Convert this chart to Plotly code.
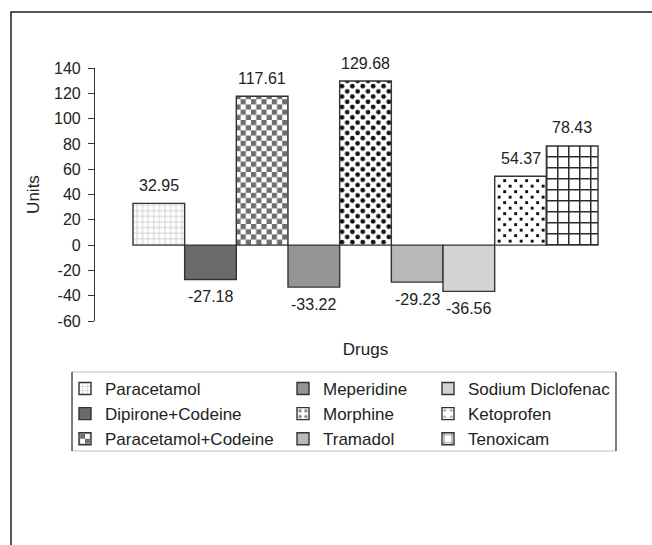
import json
import plotly.graph_objects as go

# ---- data -------------------------------------------------------------
drugs = [
    "Paracetamol", "Dipirone+Codeine", "Paracetamol+Codeine",
    "Meperidine", "Morphine", "Tramadol",
    "Sodium Diclofenac", "Ketoprofen", "Tenoxicam",
]
units = [32.95, -27.18, 117.61, -33.22, 129.68, -29.23, -36.56, 54.37, 78.43]
y_ticks = [-60, -40, -20, 0, 20, 40, 60, 80, 100, 120, 140]

# ---- styling ------------------------------------------------------------
FONT = "Liberation Sans, Arial, sans-serif"
INK = "#222222"
EDGE = "#333333"

# native fill styles (solid colours or built-in patterns)
fills = {
    "Paracetamol": dict(color="white", pattern=dict(shape="+", size=5.6, solidity=0.28,
                                                    fgcolor="#939393", bgcolor="white")),
    "Dipirone+Codeine": dict(color="#6b6b6d"),
    "Paracetamol+Codeine": dict(color="white", pattern=dict(shape="+", size=10.4, solidity=0.5,
                                                            fgcolor="#707070", bgcolor="white")),
    "Meperidine": dict(color="#959597"),
    "Morphine": dict(color="white", pattern=dict(shape=".", size=7.2, solidity=0.3,
                                                 fgcolor="#111111", bgcolor="white")),
    "Tramadol": dict(color="#b8b8ba"),
    "Sodium Diclofenac": dict(color="#d2d3d5"),
    "Ketoprofen": dict(color="white", pattern=dict(shape=".", size=8, solidity=0.1,
                                                   fgcolor="#111111", bgcolor="white")),
    "Tenoxicam": dict(color="white", pattern=dict(shape="+", size=11, solidity=0.27,
                                                  fgcolor="#2a2a2a", bgcolor="white")),
}

# custom SVG tiles for fills that have no built-in equivalent
custom_tiles = [
    {"name": "Paracetamol+Codeine", "id": "tile-checker", "size": 10.4, "bg": "white",
     "shapes": [
         {"tag": "rect", "attrs": {"x": 0, "y": 0, "width": 5.2, "height": 5.2, "fill": "#6e6e6e"}},
         {"tag": "rect", "attrs": {"x": 5.2, "y": 5.2, "width": 5.2, "height": 5.2, "fill": "#6e6e6e"}},
     ]},
    {"name": "Morphine", "id": "tile-dots", "size": 10.4, "bg": "white",
     "shapes": [
         {"tag": "circle", "attrs": {"cx": 2.6, "cy": 2.6, "r": 2.35, "fill": "#111111"}},
         {"tag": "circle", "attrs": {"cx": 7.8, "cy": 7.8, "r": 2.35, "fill": "#111111"}},
     ]},
    {"name": "Ketoprofen", "id": "tile-squares", "size": 11, "bg": "white",
     "shapes": [
         {"tag": "rect", "attrs": {"x": 1.2, "y": 1.2, "width": 2.9, "height": 2.9, "fill": "#111111"}},
         {"tag": "rect", "attrs": {"x": 6.7, "y": 6.7, "width": 2.9, "height": 2.9, "fill": "#111111"}},
     ]},
    {"name": "Tenoxicam", "id": "tile-grid", "size": 11, "bg": "white",
     "shapes": [
         {"tag": "rect", "attrs": {"x": 0, "y": 0, "width": 1.5, "height": 11, "fill": "#2b2b2b"}},
         {"tag": "rect", "attrs": {"x": 0, "y": 0, "width": 11, "height": 1.5, "fill": "#2b2b2b"}},
     ]},
]

# ---- geometry (pixels) --------------------------------------------------
W, H = 652, 545
M_L, M_R, M_T, M_B = 95, 16, 68, 224
PW, PH = W - M_L - M_R, H - M_T - M_B


def px_x(px):
    return (px - M_L) / PW


def px_y(py):
    return (H - M_B - py) / PH


side_gap = 0.735  # half of the cluster gap, in bar widths

fig = go.Figure()

legend_names = ["legend", "legend2", "legend3"]
for i, (name, val) in enumerate(zip(drugs, units)):
    col, row = divmod(i, 3)
    f = fills[name]
    marker = dict(color=f["color"], line=dict(color=EDGE, width=1.4))
    if "pattern" in f:
        marker["pattern"] = f["pattern"]
    fig.add_bar(
        x=[i], y=[val], width=1, name=name, marker=marker,
        legend=legend_names[col], legendrank=row + 1,
        hovertemplate=f"{name}: %{{y:.2f}}<extra></extra>",
    )
    fig.add_annotation(
        x=i, y=val, text=f"{val:.2f}", showarrow=False,
        yshift=18 if val > 0 else -17, yanchor="middle",
        font=dict(family=FONT, size=16, color=INK),
    )

# legend columns
swatch_centres = [85, 303, 448]
legend_top = 371
legend_cfg = {}
for col, key in enumerate(legend_names):
    legend_cfg[key] = dict(
        x=px_x(swatch_centres[col] - 20), y=px_y(legend_top),
        xanchor="left", yanchor="top", orientation="v",
        bgcolor="rgba(0,0,0,0)", borderwidth=0, tracegroupgap=0,
        font=dict(family=FONT, size=17, color=INK),
    )

shapes = [
    # outer frame
    dict(type="rect", xref="paper", yref="paper",
         x0=px_x(11), x1=px_x(W + 20), y0=px_y(H + 20), y1=px_y(12),
         line=dict(color="#1e1e1e", width=1.5), fillcolor="rgba(0,0,0,0)", layer="below"),
    # legend box: light top/bottom rules, dark sides
    dict(type="line", xref="paper", yref="paper",
         x0=px_x(72), x1=px_x(616), y0=px_y(372), y1=px_y(372),
         line=dict(color="#bdbdbd", width=1.2)),
    dict(type="line", xref="paper", yref="paper",
         x0=px_x(72), x1=px_x(616), y0=px_y(451), y1=px_y(451),
         line=dict(color="#bdbdbd", width=1.2)),
    dict(type="line", xref="paper", yref="paper",
         x0=px_x(72), x1=px_x(72), y0=px_y(372), y1=px_y(451),
         line=dict(color="#333333", width=1.3)),
    dict(type="line", xref="paper", yref="paper",
         x0=px_x(616), x1=px_x(616), y0=px_y(372), y1=px_y(451),
         line=dict(color="#333333", width=1.3)),
]

fig.update_layout(
    width=W, height=H,
    margin=dict(l=M_L, r=M_R, t=M_T, b=M_B, autoexpand=False),
    paper_bgcolor="white", plot_bgcolor="white",
    barmode="overlay", showlegend=True,
    font=dict(family=FONT, size=16, color=INK),
    shapes=shapes,
    **legend_cfg,
)

fig.update_xaxes(
    range=[-0.5 - side_gap, len(drugs) - 0.5 + side_gap],
    showline=False, showgrid=False, zeroline=False,
    showticklabels=False, ticks="",
    title=dict(text="Drugs", font=dict(family=FONT, size=17, color=INK), standoff=22),
)
fig.update_yaxes(
    range=[y_ticks[0], y_ticks[-1]],
    tickvals=y_ticks, ticktext=[str(v) for v in y_ticks],
    showline=True, linecolor="#333333", linewidth=1.2,
    ticks="outside", ticklen=6, tickwidth=1.2, tickcolor="#333333",
    ticklabelstandoff=4,
    showgrid=False, zeroline=False,
    tickfont=dict(family=FONT, size=16, color=INK),
    title=dict(text="Units", font=dict(family=FONT, size=17, color=INK), standoff=10),
)

# swap in the custom tiles for bars and legend swatches after each draw
post_js = """
(function () {
  var gd = document.getElementById('{plot_id}');
  var NS = 'http://www.w3.org/2000/svg';
  var tiles = __TILES__;
  var byName = {};
  tiles.forEach(function (t) { byName[t.name] = t.id; });
  function ensureDefs() {
    var svg = gd.querySelector('svg.main-svg');
    if (!svg) return false;
    var defs = svg.querySelector('defs');
    tiles.forEach(function (t) {
      if (document.getElementById(t.id)) return;
      var p = document.createElementNS(NS, 'pattern');
      p.setAttribute('id', t.id);
      p.setAttribute('patternUnits', 'userSpaceOnUse');
      p.setAttribute('width', t.size);
      p.setAttribute('height', t.size);
      var bg = document.createElementNS(NS, 'rect');
      bg.setAttribute('width', t.size);
      bg.setAttribute('height', t.size);
      bg.setAttribute('fill', t.bg);
      p.appendChild(bg);
      t.shapes.forEach(function (s) {
        var el = document.createElementNS(NS, s.tag);
        Object.keys(s.attrs).forEach(function (k) { el.setAttribute(k, s.attrs[k]); });
        p.appendChild(el);
      });
      defs.appendChild(p);
    });
    return true;
  }
  function traceOf(d) {
    if (!d) return null;
    if (d[0] && d[0].trace) return d[0].trace;
    if (d[0] && d[0][0] && d[0][0].trace) return d[0][0].trace;
    return null;
  }
  function apply() {
    if (!gd || !ensureDefs()) return;
    gd.querySelectorAll('g.trace.bars').forEach(function (g) {
      var tr = traceOf(g.__data__);
      var id = tr && byName[tr.name];
      if (!id) return;
      g.querySelectorAll('path').forEach(function (p) { p.style.fill = 'url(#' + id + ')'; });
    });
    gd.querySelectorAll('g.legend g.traces').forEach(function (g) {
      var tr = traceOf(g.__data__);
      var id = tr && byName[tr.name];
      if (!id) return;
      g.querySelectorAll('.legendpoints path').forEach(function (p) { p.style.fill = 'url(#' + id + ')'; });
    });
  }
  apply();
  if (gd && gd.on) gd.on('plotly_afterplot', apply);
  setTimeout(apply, 50);
})();
""".replace("__TILES__", json.dumps(custom_tiles))

fig.write_html("out.html", config={"displayModeBar": False}, post_script=post_js)
